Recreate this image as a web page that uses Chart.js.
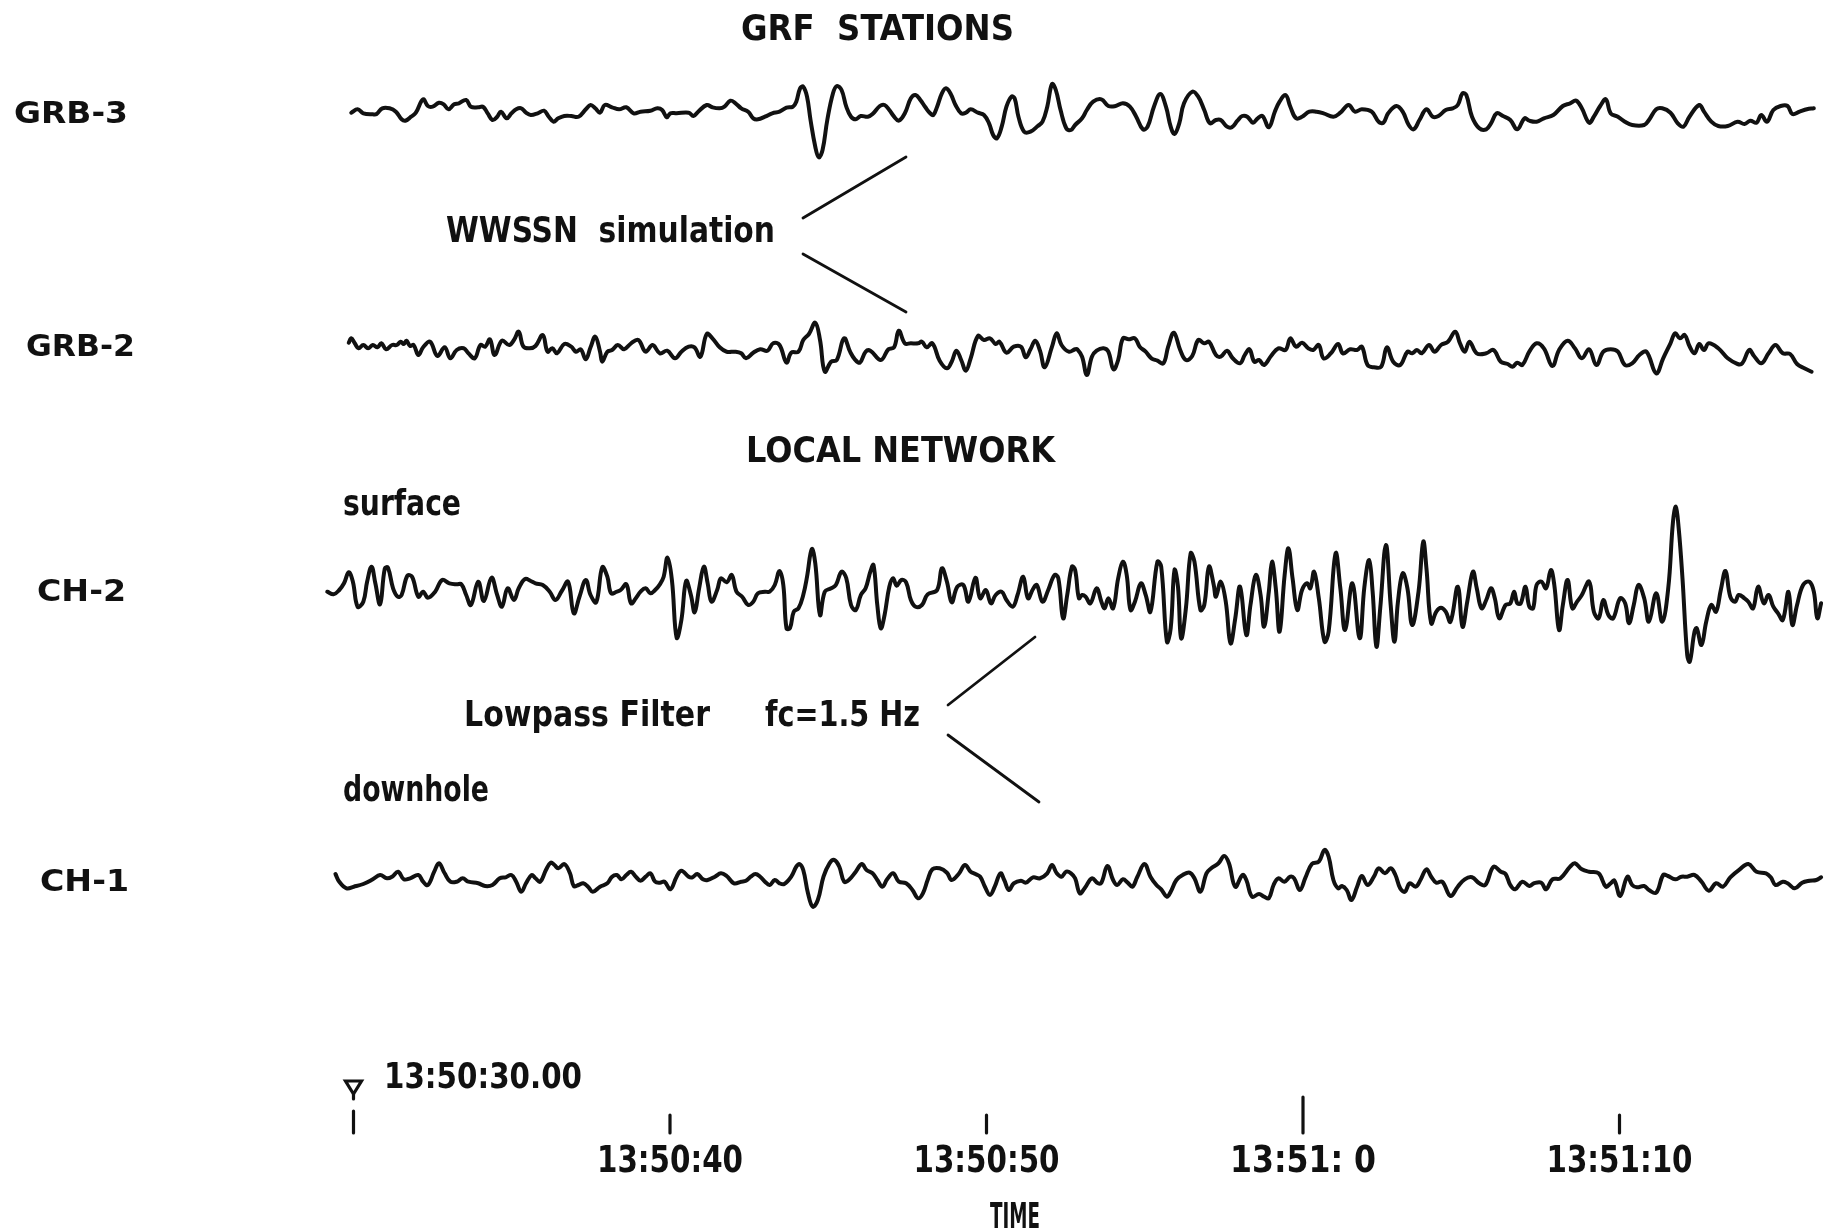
<!DOCTYPE html>
<html>
<head>
<meta charset="utf-8">
<script src="https://cdn.jsdelivr.net/npm/chart.js@4.4.1/dist/chart.umd.min.js"></script>
<style>
  body { margin: 0; background: #fff; }
  #chart { display: block; }
</style>
</head>
<body>
<canvas id="chart" width="1825" height="1232"></canvas>
<script>
// seconds after 13:50:30.00, amplitude (arbitrary units, up = positive)
const grb3 = [
  [-0.07,-0.7],[0.13,2.7],[0.31,-1.3],[0.61,-2.3],[0.73,-2],[0.91,3.7],[1.14,3.7],[1.34,0.3],[1.52,-7.3],[1.64,-8.7],
  [1.82,-4.7],[1.97,-0.7],[2.2,12.7],[2.35,6],[2.5,5.3],[2.7,9.3],[2.85,7.7],[3.0,2.7],[3.18,7.7],[3.33,8.7],
  [3.56,12],[3.71,5.3],[3.94,4.7],[4.09,5.3],[4.24,-1.3],[4.39,-8],[4.54,-4.7],[4.66,0.3],[4.84,-6.3],[4.99,-1.3],
  [5.14,2.7],[5.3,3.7],[5.45,-0.7],[5.6,-3],[5.82,-1.3],[6.02,1.3],[6.17,-4.7],[6.32,-9.7],[6.47,-6.3],[6.66,-4],
  [6.88,-4],[7.11,-4.7],[7.34,2.7],[7.49,7],[7.64,3.7],[7.79,-0.7],[7.94,7],[8.17,4.7],[8.39,2.7],[8.62,4.7],
  [8.85,-1.3],[9.07,0.3],[9.38,1.3],[9.6,3.7],[9.75,2],[9.9,-5.3],[10.01,-1.3],[10.21,-1.3],[10.59,-0.7],[10.74,-4],
  [10.89,0.3],[11.16,7],[11.34,4.7],[11.57,3.7],[11.72,5.3],[11.91,11.3],[12.07,8.7],[12.25,3.7],[12.47,0.3],[12.63,-6.3],
  [12.78,-7.3],[13.0,-4.7],[13.23,-1.3],[13.46,0.3],[13.68,4.3],[13.88,5.3],[13.99,10.3],[14.11,23.7],[14.21,25.3],[14.33,15.3],
  [14.44,-8],[14.59,-34.7],[14.7,-45.3],[14.82,-38],[14.97,-8],[15.15,18.7],[15.27,26],[15.42,22],[15.57,5.3],[15.72,-4.7],
  [15.87,-7.3],[16.03,-4],[16.25,-4.7],[16.4,-2],[16.63,6],[16.78,7],[16.93,2],[17.08,-4.7],[17.23,-8.7],[17.42,-1.3],
  [17.61,13.7],[17.76,17],[17.91,12],[18.07,4.7],[18.22,-1.3],[18.32,-3],[18.44,5.3],[18.59,18.7],[18.72,23.7],[18.87,18],
  [19.02,7],[19.2,-1.3],[19.35,-0.7],[19.5,2.7],[19.73,-0.7],[19.92,-3],[20.08,-11.3],[20.21,-23],[20.33,-26.3],[20.48,-14.7],
  [20.63,5.3],[20.79,15.3],[20.89,13.7],[21.01,-4.7],[21.19,-19.7],[21.39,-19.7],[21.62,-14],[21.77,-9.7],[21.92,5.3],[22.07,28],
  [22.19,22],[22.34,2],[22.52,-16.3],[22.67,-18],[22.8,-13],[23.02,-6.3],[23.17,2],[23.37,10.3],[23.63,12.7],[23.85,6],
  [24.08,6],[24.31,8.7],[24.53,5.3],[24.73,-4.7],[24.94,-17.3],[25.09,-14.7],[25.29,5.3],[25.49,18],[25.67,5.3],[25.82,-14.7],
  [25.94,-22],[26.09,-11.3],[26.24,8.7],[26.5,20.3],[26.69,15.3],[26.88,2],[27.06,-11.3],[27.25,-8],[27.4,-8],[27.6,-14.7],
  [27.75,-15.3],[27.93,-8.7],[28.08,-4],[28.24,-4.7],[28.42,-10.7],[28.57,-6.3],[28.72,-4],[28.92,-15.3],[29.11,0.3],[29.26,10.3],
  [29.45,17],[29.6,5.3],[29.78,-6.3],[29.97,-4.7],[30.2,0.3],[30.43,0.3],[30.65,-1.3],[30.96,-4.7],[31.18,-0.7],[31.44,7],
  [31.64,0.3],[31.86,2.7],[32.17,0.3],[32.39,-9.7],[32.54,-10.7],[32.69,-1.3],[32.95,6],[33.15,0.3],[33.34,-13],[33.5,-17.3],
  [33.68,-8],[33.9,2.7],[34.1,-4.7],[34.28,-4],[34.51,2],[34.73,3.7],[34.89,7],[35.04,18.7],[35.16,17],[35.34,-4.7],
  [35.57,-16.3],[35.79,-17.3],[35.94,-11.3],[36.12,-1.3],[36.32,-4],[36.55,-8],[36.77,-17.3],[37.0,-6.3],[37.15,-8.7],[37.38,-9.7],
  [37.61,-6.3],[37.91,-3],[38.21,6],[38.44,8.7],[38.63,11.3],[38.81,3.7],[39.04,-10.7],[39.19,-4.7],[39.39,6],[39.57,12.7],
  [39.72,-1.3],[39.95,-4.7],[40.17,-9.7],[40.4,-13],[40.78,-13],[40.93,-8],[41.16,2.7],[41.35,3.7],[41.61,-0.7],[41.84,-11.3],
  [42.02,-14.7],[42.21,-4.7],[42.52,7],[42.67,0.3],[42.9,-9.7],[43.12,-14],[43.42,-14],[43.73,-9.7],[43.95,-12],[44.13,-8.7],
  [44.33,-10.7],[44.48,-3],[44.66,-9.7],[44.86,2],[45.09,6],[45.31,6],[45.46,-2],[45.69,0.3],[45.92,2.7],[46.14,3.7]
];

const grb2 = [
  [-0.15,2.3],[-0.07,6.7],[0.04,1.7],[0.16,-3.3],[0.31,0],[0.46,-3.3],[0.61,0],[0.76,-2.3],[0.88,1.7],[1.03,-4.3],
  [1.22,0],[1.37,0],[1.49,3.3],[1.59,1],[1.67,4.3],[1.79,-1],[1.9,0],[2.05,-10],[2.2,-2.3],[2.42,3.3],
  [2.65,-11],[2.88,-2.3],[3.06,-13.3],[3.26,-5],[3.48,-3.3],[3.63,-8.3],[3.83,-13.3],[4.01,0],[4.16,-1.7],[4.31,5.7],
  [4.46,-10],[4.69,4.3],[4.92,0],[5.07,5],[5.22,13.3],[5.37,-1.7],[5.57,-3.3],[5.75,-1],[5.98,10],[6.13,-6.7],
  [6.28,-3.3],[6.43,-8.3],[6.66,1],[6.88,-1.7],[7.03,-6.7],[7.18,-4.3],[7.34,-14.3],[7.49,-2.3],[7.64,8.3],[7.79,-6.7],
  [7.86,-16.7],[8.02,-6.7],[8.17,-5],[8.35,0],[8.55,-4.3],[8.77,1.7],[9.0,5],[9.23,-6.7],[9.45,0],[9.68,-8.3],
  [9.91,-5.7],[10.16,-13.3],[10.36,-6.7],[10.59,-1.7],[10.77,-2.3],[10.96,-11.7],[11.16,11],[11.34,6.7],[11.57,-2.3],[11.79,-6.7],
  [12.07,-6.7],[12.25,-8.3],[12.4,-13.3],[12.63,-7.7],[12.85,-4.3],[13.08,-5.7],[13.26,1.7],[13.46,0],[13.68,-17.7],[13.83,-7.7],
  [14.06,-6.7],[14.21,5],[14.39,11],[14.59,22.3],[14.74,5],[14.89,-26.7],[15.09,-16.7],[15.27,-15],[15.5,6.7],[15.69,-6.7],
  [15.84,-14.3],[16.0,-17.7],[16.18,-6.7],[16.33,-5.7],[16.66,-15],[16.9,-4.3],[17.08,-2.3],[17.23,14.3],[17.42,1.7],[17.61,1.7],
  [17.84,1.7],[17.96,3.3],[18.11,-2.3],[18.29,1.7],[18.52,-15.7],[18.75,-23.3],[18.9,-16.7],[19.05,-5.7],[19.2,-15],[19.35,-25.7],
  [19.5,-13.3],[19.73,9],[19.92,5],[20.11,6.7],[20.29,1],[20.41,3.3],[20.63,-7.7],[20.86,-1.7],[21.09,-1.7],[21.24,-12.3],
  [21.39,-4.3],[21.54,4.3],[21.69,-5.7],[21.84,-22.3],[22.07,-1.7],[22.22,11.7],[22.37,0],[22.6,-6.7],[22.8,-4.3],[22.87,-4.3],
  [23.02,-11.7],[23.17,-30],[23.33,-11.7],[23.48,-5.7],[23.7,-3.3],[23.85,-6.7],[24.01,-24.3],[24.16,-15],[24.31,6.7],[24.49,5.7],
  [24.69,6.7],[24.84,-1.7],[25.03,-6.7],[25.21,-13.3],[25.4,-15.7],[25.59,-18.3],[25.74,-1.7],[25.92,12.3],[26.12,-5],[26.3,-15],
  [26.5,-11],[26.69,5],[26.88,1.7],[27.03,3.3],[27.25,-10],[27.4,-11.7],[27.6,-5.7],[27.78,-13.3],[28.01,-18.3],[28.16,-10],
  [28.31,-4.3],[28.46,-16.7],[28.61,-15],[28.77,-20],[28.99,-11],[29.22,-3.3],[29.45,-5],[29.6,6.7],[29.78,-1.7],[29.97,2.3],
  [30.17,-3.3],[30.32,-5],[30.5,0],[30.65,-13.3],[30.88,-8.3],[31.11,1],[31.26,-8.3],[31.49,-4.3],[31.71,-5],[31.86,-1.7],
  [32.04,-20],[32.24,-22.3],[32.47,-21.7],[32.65,-2.3],[32.85,-16.7],[33.07,-20],[33.3,-6.7],[33.45,-8.3],[33.6,-5],[33.75,-8.3],
  [33.98,0],[34.16,-6.7],[34.36,0],[34.58,3.3],[34.81,13.3],[34.96,1.7],[35.11,-6.7],[35.26,3.3],[35.49,-8.3],[35.79,-8.3],
  [36.02,-5],[36.25,-16.7],[36.47,-19],[36.62,-21.7],[36.77,-17.7],[36.93,-20],[37.15,-6.7],[37.38,1.7],[37.61,-3.3],[37.88,-21],
  [38.09,-5],[38.36,4.3],[38.59,-3.3],[38.81,-13.3],[39.04,-4.3],[39.27,-20],[39.49,-6.7],[39.72,-4.3],[39.95,-6.7],[40.17,-20],
  [40.4,-18.3],[40.63,-10],[40.85,-6.7],[41.16,-28.3],[41.38,-13.3],[41.61,1.7],[41.76,11.7],[41.91,6.7],[42.06,10],[42.21,-1],
  [42.37,-8.3],[42.52,1],[42.67,-5],[42.82,1.7],[43.12,-3.3],[43.42,-13.3],[43.73,-19],[43.88,-18.3],[44.1,-5],[44.25,-11],
  [44.48,-18.3],[44.71,-8.3],[44.93,0],[45.16,-8.3],[45.39,-9],[45.61,-19],[45.84,-23.3],[46.07,-26.7]
];

const ch2 = [
  [-0.83,-1.7],[-0.63,-4.3],[-0.45,0],[-0.3,6.7],[-0.15,17.7],[-0.02,8.3],[0.13,-16.7],[0.31,-11.7],[0.43,8.3],[0.57,23.3],
  [0.69,6.7],[0.84,-14.3],[0.99,21.7],[1.09,22.3],[1.25,1.7],[1.4,-6.7],[1.52,-5],[1.7,14.3],[1.85,13.3],[2.05,-6.7],
  [2.2,-1.7],[2.35,-7.7],[2.58,-1.7],[2.8,10],[3.03,6.7],[3.26,5.7],[3.41,5.7],[3.56,-5],[3.71,-15],[3.94,8.3],
  [4.12,-11],[4.36,12.3],[4.54,-5],[4.69,-16.7],[4.87,1.7],[5.07,-10],[5.22,1.7],[5.42,11],[5.6,9],[5.75,6.7],
  [5.98,5],[6.2,-1.7],[6.38,-10],[6.58,-1],[6.78,8.3],[6.96,-23.3],[7.14,-6.7],[7.34,10],[7.49,-5],[7.67,-12.3],
  [7.86,22.7],[8.02,13.3],[8.14,-3.3],[8.32,-1.7],[8.44,0],[8.62,5.7],[8.77,-13.3],[8.92,-8.3],[9.07,-1.7],[9.23,1.7],
  [9.38,-3.3],[9.53,0],[9.68,5.7],[9.8,13.3],[9.92,32.3],[10.06,10],[10.21,-47.7],[10.36,-30],[10.51,9],[10.66,-5],
  [10.78,-22.3],[10.92,1.7],[11.07,23.3],[11.19,6.7],[11.31,-11.7],[11.49,0],[11.61,11.7],[11.79,7.7],[11.95,15],[12.1,-1.7],
  [12.28,-6.7],[12.47,-15],[12.63,-11.7],[12.78,-3.3],[13.0,-1.7],[13.15,-1.7],[13.31,5],[13.46,19],[13.58,5],[13.68,-38.3],
  [13.79,-38.3],[13.91,-21.7],[14.06,-18.3],[14.21,-5],[14.33,13.3],[14.48,41],[14.59,26.7],[14.74,-25],[14.89,-1.7],[15.09,1.7],
  [15.24,5],[15.42,18.3],[15.57,11.7],[15.72,-15],[15.87,-20],[16.03,-5],[16.18,1.7],[16.33,18.3],[16.43,25],[16.55,-15],
  [16.66,-38.3],[16.78,-25],[16.93,3.3],[17.05,11.7],[17.16,4.3],[17.31,10],[17.46,7.7],[17.61,-10],[17.76,-16.7],[17.96,-15],
  [18.14,-4.3],[18.44,0],[18.59,21.7],[18.75,8.3],[18.9,-12.3],[19.08,3.3],[19.27,5],[19.43,-11.7],[19.65,12.3],[19.8,-8.3],
  [19.98,0],[20.14,-13.3],[20.29,-5],[20.48,-1.7],[20.63,-10],[20.83,-16.7],[20.98,-5],[21.16,13.3],[21.31,-8.3],[21.47,1],
  [21.59,5],[21.77,-11.7],[21.95,0],[22.15,15],[22.27,11.7],[22.42,-28.3],[22.55,-5],[22.7,23.3],[22.8,20],[22.92,-8.3],
  [23.02,-5],[23.13,-6.7],[23.28,-13.3],[23.48,1.7],[23.63,-11.7],[23.73,-18.3],[23.85,-8.3],[24.0,-18.3],[24.16,11.7],[24.31,28.3],
  [24.43,15],[24.55,-20],[24.69,-11.7],[24.88,6.7],[25.03,-5],[25.18,-21.7],[25.4,28.3],[25.52,23.3],[25.7,-51.7],[25.82,-38.3],
  [25.94,20],[26.05,3.3],[26.15,-48.3],[26.3,-18.3],[26.45,36.7],[26.57,28.3],[26.76,-20],[26.88,-15],[27.03,23.3],[27.18,5],
  [27.25,-6.7],[27.4,8.3],[27.56,-11.7],[27.71,-53.3],[27.86,-28.3],[28.01,3.3],[28.21,-45],[28.34,-15],[28.51,15],[28.66,-5],
  [28.77,-36.7],[28.92,-1.7],[29.02,28.3],[29.14,1.7],[29.26,-41.7],[29.42,15],[29.54,41.7],[29.67,11.7],[29.82,-20],[29.97,0],
  [30.13,6.7],[30.23,1.7],[30.35,18.3],[30.5,-8.3],[30.68,-51.7],[30.81,-41.7],[31.03,36.7],[31.18,1.7],[31.33,-40],[31.56,6.7],
  [31.79,-48.3],[31.94,3.3],[32.09,30],[32.2,-1.7],[32.32,-56.7],[32.44,-18.3],[32.62,45],[32.77,-15],[32.89,-51.7],[33.0,-11.7],
  [33.15,16.7],[33.3,1.7],[33.45,-35],[33.65,-1.7],[33.8,48.3],[33.9,21.7],[34.05,-33.3],[34.21,-21.7],[34.36,-17.7],[34.51,-21.7],
  [34.66,-31.7],[34.89,3.3],[35.04,-36.7],[35.19,-11.7],[35.37,18.3],[35.49,1.7],[35.64,-18.3],[35.79,-10],[35.94,1.7],[36.06,-8.3],
  [36.2,-28.3],[36.4,-15],[36.55,-13.3],[36.67,-1.7],[36.77,-13.3],[36.88,-13.3],[37.03,3.3],[37.15,-16.7],[37.27,-18.3],[37.38,5],
  [37.53,8.3],[37.68,1.7],[37.83,20],[37.94,5],[38.09,-40],[38.21,-15],[38.36,10],[38.51,-18.3],[38.66,-11.7],[38.81,-5],
  [39.04,8.3],[39.19,-21.7],[39.34,-28.3],[39.49,-10],[39.65,-25],[39.8,-28.3],[40.02,-8.3],[40.18,-13.3],[40.3,-33.3],[40.45,-15],
  [40.6,5],[40.78,-8.3],[40.93,-31.7],[41.16,-3.3],[41.35,-31.7],[41.54,1.7],[41.69,68.3],[41.78,83.3],[41.87,61.7],[41.99,11.7],
  [42.14,-65],[42.22,-71.7],[42.37,-41.7],[42.44,-38.3],[42.59,-55],[42.74,-31.7],[42.9,-15],[43.05,-21.7],[43.2,0],[43.35,19],
  [43.5,-6.7],[43.65,-11.7],[43.77,-5],[43.95,-8.3],[44.07,-11.7],[44.22,-18.3],[44.38,3.3],[44.56,-13.3],[44.71,-5],[44.86,-16.7],
  [45.01,-23.3],[45.16,-30],[45.34,-1.7],[45.46,-35],[45.61,-15],[45.8,5],[46.0,8.3],[46.14,-1.7],[46.25,-28.3],[46.37,-13.3]
];

const ch1 = [
  [-0.57,6],[-0.45,-1.7],[-0.22,-8.3],[0.01,-6.7],[0.31,-4],[0.61,0.7],[0.84,5],[1.06,1.7],[1.22,3.3],[1.41,8.3],
  [1.59,0.7],[1.79,1.7],[2.05,5],[2.2,-1.7],[2.35,-5],[2.55,8.3],[2.7,16.7],[2.88,6.7],[3.06,-1.7],[3.26,-1.7],
  [3.45,1.7],[3.63,-1.7],[3.94,-3.3],[4.16,-6],[4.39,-5],[4.62,1.7],[4.81,2.7],[4.99,5],[5.14,-1.7],[5.3,-11.7],
  [5.45,-3.3],[5.63,5],[5.75,1.7],[5.9,-1.7],[6.08,10],[6.23,17.3],[6.35,15],[6.47,11.7],[6.66,16],[6.84,6.7],
  [6.96,-6],[7.11,-5],[7.26,-3.3],[7.41,-6.7],[7.56,-11.7],[7.79,-6.7],[8.02,-3.3],[8.17,3.3],[8.32,5],[8.47,0.7],
  [8.62,5],[8.77,8.3],[8.92,3.3],[9.07,-0.7],[9.23,3.3],[9.38,6.7],[9.53,-1.7],[9.68,-2.7],[9.83,-1.7],[10.01,-9.3],
  [10.21,3.3],[10.36,9.3],[10.59,3.3],[10.71,2.7],[10.86,6],[11.04,0.7],[11.19,0],[11.42,3.3],[11.61,6.7],[11.79,4],
  [12.02,-3.3],[12.25,-1.7],[12.4,-0.7],[12.55,3.3],[12.7,6],[12.85,3.3],[13.0,-1.7],[13.15,-5],[13.31,0],[13.46,-3.3],
  [13.61,-4],[13.83,3.3],[13.99,13.3],[14.09,16],[14.21,10],[14.36,-13.3],[14.51,-26.7],[14.67,-20],[14.85,3.3],[15.04,16.7],
  [15.19,20],[15.35,13.3],[15.5,-1.7],[15.65,0],[15.87,8.3],[16.06,16],[16.21,10],[16.4,6.7],[16.55,0],[16.71,-6.7],
  [16.86,0.7],[17.05,6.7],[17.23,-1.7],[17.46,-3.3],[17.66,-10],[17.84,-18.3],[17.99,-13.3],[18.14,0],[18.29,10.7],[18.52,11.7],
  [18.75,7.3],[18.9,0],[19.12,6],[19.32,15],[19.5,8.3],[19.65,6],[19.8,3.3],[19.95,-6.7],[20.11,-15],[20.26,-6.7],
  [20.44,6.7],[20.56,0],[20.71,-10],[20.86,-3.3],[21.09,-0.7],[21.24,-2.7],[21.47,2.7],[21.69,1.7],[21.92,6.7],[22.07,15],
  [22.22,6.7],[22.37,3.3],[22.52,8.3],[22.67,6.7],[22.8,1.7],[22.95,-13.3],[23.1,-8.3],[23.33,1.7],[23.52,-3.3],[23.63,-2.7],
  [23.82,14],[24.0,0],[24.13,-5],[24.31,0.7],[24.46,-2.7],[24.61,-6.7],[24.76,2.7],[24.99,16],[25.18,3.3],[25.37,-5],
  [25.52,-9.3],[25.7,-16.7],[25.82,-11.7],[26.0,0],[26.2,5],[26.42,7.3],[26.57,1.7],[26.76,-11.7],[26.95,6.7],[27.1,11.7],
  [27.33,16.7],[27.51,24],[27.66,16.7],[27.86,-6.7],[28.09,5],[28.21,0],[28.39,-16.7],[28.61,-14],[28.77,-16.7],[28.92,-18.3],
  [29.07,-5],[29.22,1.7],[29.41,-1.7],[29.6,3.3],[29.72,1.7],[29.9,-10],[30.08,2.7],[30.28,16],[30.5,18.3],[30.68,30],
  [30.81,23.3],[30.96,0],[31.11,-8.3],[31.23,-6],[31.38,-10],[31.53,-20],[31.71,-6.7],[31.86,4],[32.04,-5],[32.24,3.3],
  [32.39,11.7],[32.59,6.7],[32.77,11.7],[32.92,5],[33.07,-8.3],[33.22,-11.7],[33.37,-3.3],[33.56,-6.7],[33.71,0],[33.9,10.7],
  [34.05,3.3],[34.21,-2.7],[34.4,-1.7],[34.66,-16],[34.89,-6.7],[35.11,0.7],[35.34,2.7],[35.57,-3.3],[35.76,-5],[36.02,13.3],
  [36.25,8.3],[36.4,6],[36.55,-5],[36.7,-9.3],[36.93,-1.7],[37.15,-6],[37.3,-3.3],[37.53,-2.7],[37.68,-9.3],[37.88,0.7],
  [38.13,1.7],[38.44,13.3],[38.59,16.7],[38.81,10.7],[39.04,8.3],[39.34,6.7],[39.57,-6.7],[39.72,-3.3],[39.84,-0.7],[40.02,-16],
  [40.25,3.3],[40.4,-5],[40.55,-7.3],[40.78,-6],[40.93,-10],[41.16,-12.7],[41.38,5],[41.53,4],[41.76,0.7],[41.96,3.3],
  [42.14,3.3],[42.37,5],[42.59,-1.7],[42.82,-10.7],[43.05,-3.3],[43.27,-6.7],[43.5,2.7],[43.8,10.7],[44.07,16],[44.33,8.3],
  [44.63,6.7],[44.78,2.7],[44.93,-5],[45.16,-1.7],[45.31,-3.3],[45.54,-8.3],[45.77,-2.7],[46.0,-0.7],[46.22,0],[46.37,2.7]
];

const traceNames = ['GRB-3', 'GRB-2', 'CH-2', 'CH-1'];
const traces = [grb3, grb2, ch2, ch1];
const tickTimes = [0, 10, 20, 30, 40];
const tickLabels = ['', '13:50:40', '13:50:50', '13:51: 0', '13:51:10'];
const startLabel = '13:50:30.00';
const axisTitle = 'TIME';

// page layout (pixels)
const baselines = [112, 345, 590, 880];
const PX_PER_S = 31.65, T0_PX = 353.5, W = 1825, H = 1232;

const COND = '"DejaVu Sans Condensed", "DejaVu Sans", sans-serif';
const WIDE = '"DejaVu Sans", "Liberation Sans", sans-serif';

// text squeezed/stretched to the width it has in the figure
function txt(ctx, s, x, base, w, size, family, weight){
    ctx.save();
    ctx.font = (weight || 'bold') + ' ' + size + 'px ' + family;
    const m = ctx.measureText(s).width;
    ctx.translate(x, base);
    ctx.scale(w / m, 1);
    ctx.textBaseline = 'alphabetic';
    ctx.fillText(s, 0, 0);
    ctx.restore();
}

function seg(ctx, x1, y1, x2, y2){
    ctx.beginPath(); ctx.moveTo(x1, y1); ctx.lineTo(x2, y2); ctx.stroke();
}

const decor = {
    id: 'decor',
    beforeDraw(chart){
        const c = chart.ctx;
        c.save(); c.fillStyle = '#fff'; c.fillRect(0, 0, chart.width, chart.height); c.restore();
    },
    afterDraw(chart){
        const c = chart.ctx, xs = chart.scales.x, ys = chart.scales.y;
        c.save();
        c.fillStyle = '#111'; c.strokeStyle = '#111';

        // headings and notes
        txt(c, 'GRF  STATIONS', 741, 40, 273, 36, COND);
        txt(c, 'WWSSN  simulation', 446, 242, 329, 36, COND);
        txt(c, 'LOCAL NETWORK', 746, 462, 309, 36, COND);
        txt(c, 'surface', 343, 515, 118, 35, COND);
        txt(c, 'Lowpass Filter', 464, 726, 246, 35, COND);
        txt(c, 'fc=1.5 Hz', 765, 726, 155, 35, COND);
        txt(c, 'downhole', 343, 801, 146, 35, COND);

        // station names
        const nameX = [14, 26, 37, 40], nameW = [114, 109, 89, 89];
        traceNames.forEach((n, i) => {
            txt(c, n, nameX[i], ys.getPixelForValue(baselines[i]) + 11, nameW[i], 30, WIDE);
        });

        // pointer lines
        c.lineWidth = 2.8; c.lineCap = 'round';
        seg(c, 803, 218, 906, 157);
        seg(c, 803, 254, 906, 312);
        seg(c, 948, 705, 1035, 637);
        seg(c, 948, 735, 1039, 802);

        // time axis
        c.lineWidth = 3.2;
        tickTimes.forEach((t, i) => {
            const x = xs.getPixelForValue(t);
            const top = t === 30 ? 1097 : (t === 0 ? 1111 : 1115);
            seg(c, x, top, x, 1133);
            if (tickLabels[i]) txt(c, tickLabels[i], x - 73, 1172, 146, 37, COND, 'bold');
        });
        const x0 = xs.getPixelForValue(0);
        txt(c, startLabel, 384, 1088, 198, 35, COND, 'bold');
        c.lineWidth = 3.2;
        c.beginPath();
        c.moveTo(x0 - 8, 1081); c.lineTo(x0 + 8, 1081); c.lineTo(x0, 1094); c.closePath();
        c.stroke();
        seg(c, x0, 1094, x0, 1099);
        txt(c, axisTitle, 990, 1228, 50, 35, COND, 'bold');
        c.restore();
    }
};

const datasets = traces.map((tr, i) => ({
    label: traceNames[i],
    data: tr.map(p => ({ x: p[0], y: baselines[i] - p[1] })),
    borderColor: '#111',
    borderWidth: 4,
    pointRadius: 0,
    tension: 0.4,
    borderJoinStyle: 'round',
    borderCapStyle: 'round',
    fill: false
}));

new Chart(document.getElementById('chart'), {
    type: 'line',
    data: { datasets },
    options: {
        responsive: false,
        animation: false,
        devicePixelRatio: 1,
        layout: { padding: 0 },
        plugins: { legend: { display: false }, tooltip: { enabled: false } },
        scales: {
            x: { type: 'linear', display: false, min: -T0_PX / PX_PER_S, max: (W - T0_PX) / PX_PER_S },
            y: { type: 'linear', display: false, min: 0, max: H, reverse: true }
        }
    },
    plugins: [decor]
});
</script>
</body>
</html>
